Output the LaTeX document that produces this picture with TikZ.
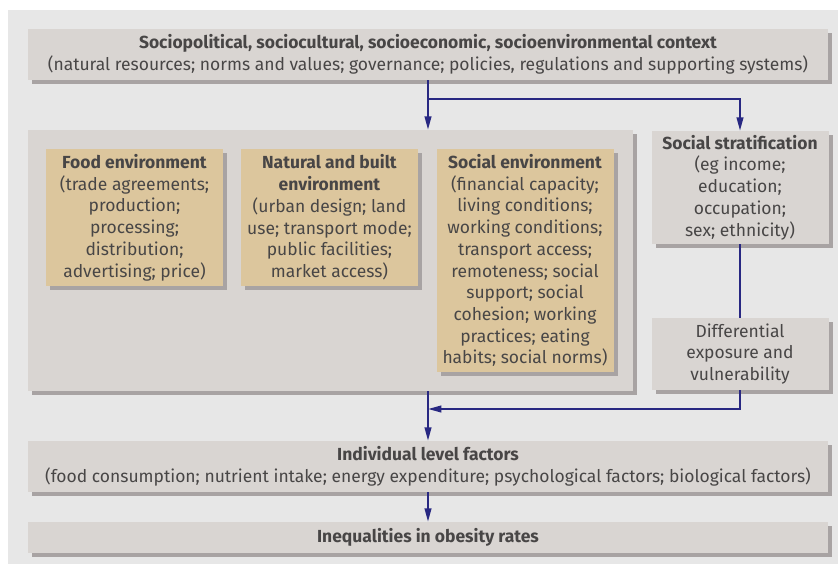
\documentclass[tikz,border=0pt]{standalone}
\usepackage{fontspec}
\setmainfont{Fira Sans}
\usetikzlibrary{arrows.meta, shadows}

\definecolor{panelgray}{RGB}{231,231,231}
\definecolor{boxgray}{RGB}{217,213,210}
\definecolor{boxtan}{RGB}{220,198,157}
\definecolor{shadowgray}{RGB}{168,163,163}
\definecolor{flowblue}{RGB}{40,40,130}
\definecolor{textgray}{RGB}{72,70,70}

\tikzset{
  box/.style = {
    fill = boxgray, inner sep = 0pt, align = center, text = textgray,
    font = \fontsize{13.1}{16.3}\selectfont,
    drop shadow = {shadow xshift=3pt, shadow yshift=-3pt, fill=shadowgray, opacity=1}
  },
  envbox/.style = {box, fill = boxtan, minimum width = 132.75pt},
  sidebox/.style = {box, minimum width = 132.75pt},
  widebox/.style = {box, minimum width = 600pt},
  link/.style = {draw = flowblue, line width = 1.4pt},
  flow/.style = {link, -{Triangle[length=10pt, width=5pt]}}
}

\begin{document}
\begin{tikzpicture}[x=0.75pt, y=-0.75pt]

  \useasboundingbox (0,0) rectangle (838,564);
  \fill[panelgray] (8,10) rectangle (838,564);

  % Context
  \node[widebox, minimum height=38.25pt] (ctx) at (428,54.5)
    {\textbf{Sociopolitical, sociocultural, socioeconomic, socioenvironmental context}\\
     (natural resources; norms and values; governance; policies, regulations and supporting systems)};

  % Environments
  \node[box, minimum width=453.75pt, minimum height=195.75pt] (envs) at (330.5,260.5) {};

  \node[envbox, minimum height=102.75pt] (food) at (134.5,217.5)
    {\textbf{Food environment}\\(trade agreements;\\production;\\processing;\\distribution;\\advertising; price)};

  \node[envbox, minimum height=102.75pt] (built) at (329.5,217.5)
    {\textbf{Natural and built}\\\textbf{environment}\\(urban design; land\\use; transport mode;\\public facilities;\\market access)};

  \node[envbox, minimum height=167.25pt] (social) at (525,260.5)
    {\textbf{Social environment}\\(financial capacity;\\living conditions;\\working conditions;\\transport access;\\remoteness; social\\support; social\\cohesion; working\\practices; eating\\habits; social norms)};

  % Stratification
  \node[sidebox, minimum height=84.75pt] (strat) at (740,187.5)
    {\textbf{Social stratification}\\(eg income;\\education;\\occupation;\\sex; ethnicity)};

  \node[sidebox, minimum height=54pt] (diff) at (740,354)
    {Differential\\exposure and\\vulnerability};

  % Individual level and outcome
  \node[widebox, minimum height=38.25pt] (indiv) at (428,466.5)
    {\textbf{Individual level factors}\\
     (food consumption; nutrient intake; energy expenditure; psychological factors; biological factors)};

  \node[widebox, minimum height=23.25pt] (ineq) at (428,537.5)
    {\textbf{Inequalities in obesity rates}};

  % Arrows
  \coordinate (split) at (428,99);
  \coordinate (join) at (428,409);

  \draw[flow] (ctx.south) -- (ctx.south |- envs.north);
  \draw[flow] (split) -| (strat.north);
  \draw[link] (strat.south) -- (diff.north);
  \draw[flow] (diff.south) |- (join);
  \draw[flow] (join |- envs.south) -- (indiv.north);
  \draw[flow] (indiv.south) -- (ineq.north);

\end{tikzpicture}
\end{document}
